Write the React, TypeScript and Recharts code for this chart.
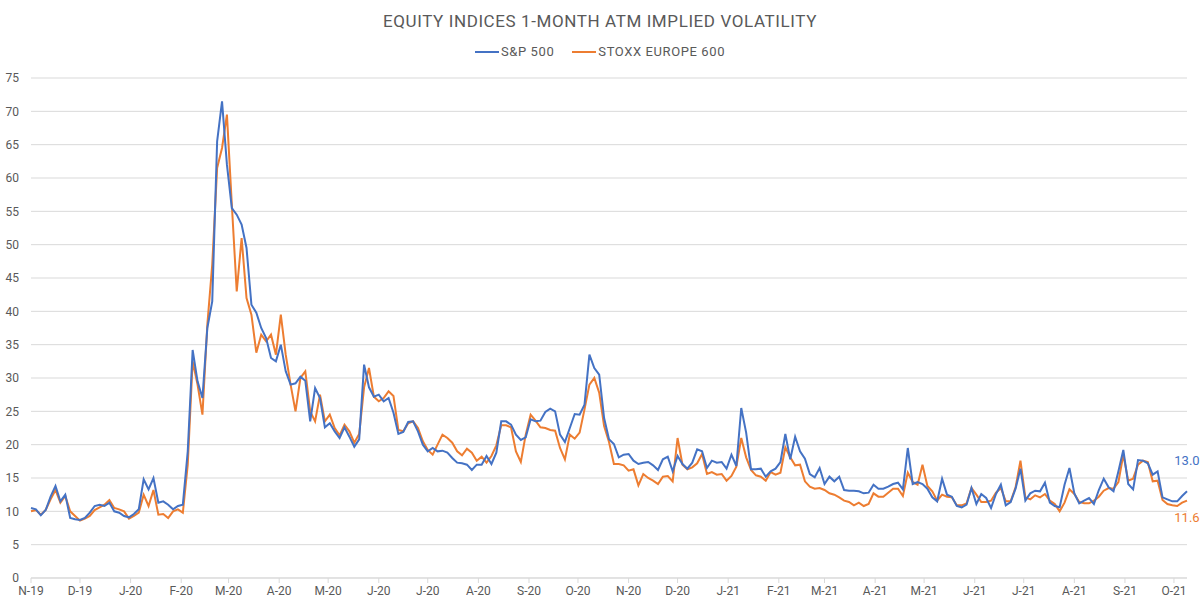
import React from "react";
import { LineChart, Line, XAxis, YAxis, CartesianGrid, LabelList } from "recharts";

// sampled every 3 calendar days from 1 Nov 2019
const START = Date.UTC(2019, 10, 1);
const STEP_DAYS = 3;
const DAY_MS = 86400000;

const monthLabels = [
  "N-19", "D-19", "J-20", "F-20", "M-20", "A-20", "M-20", "J-20", "J-20", "A-20", "S-20", "O-20",
  "N-20", "D-20", "J-21", "F-21", "M-21", "A-21", "M-21", "J-21", "J-21", "A-21", "S-21", "O-21",
];

const yTicks = [0, 5, 10, 15, 20, 25, 30, 35, 40, 45, 50, 55, 60, 65, 70, 75];

const sp500 = [
  10.5, 10.3, 9.4, 10.2, 12.2, 13.8, 11.5, 12.5, 9.0, 8.8, 8.7, 9.0, 9.8, 10.8, 11.0, 10.8,
  11.3, 10.0, 9.8, 9.3, 9.1, 9.6, 10.3, 14.8, 13.3, 15.0, 11.3, 11.5, 11.0, 10.3, 10.8, 11.0,
  19.0, 34.2, 29.5, 27.0, 37.5, 41.5, 65.5, 71.5, 62.0, 55.5, 54.5, 53.0, 49.5, 41.0, 39.8, 37.5,
  36.0, 33.0, 32.5, 35.0, 31.0, 29.0, 29.2, 30.2, 29.6, 23.5, 28.5, 27.0, 22.6, 23.2, 22.0, 21.0,
  22.6, 21.2, 19.7, 20.8, 32.0, 28.6, 27.2, 27.5, 26.5, 27.0, 24.8, 21.6, 21.9, 23.4, 23.5, 22.0,
  20.0, 19.0, 19.5, 19.0, 19.1, 18.8, 18.0, 17.3, 17.2, 17.0, 16.2, 17.0, 17.0, 18.3, 17.1, 18.8,
  23.5, 23.5, 23.0, 21.5, 20.7, 21.1, 23.8, 23.5, 23.6, 24.9, 25.4, 25.0, 21.5, 20.4, 22.5, 24.6,
  24.5, 26.0, 33.5, 31.5, 30.5, 24.0, 20.8, 20.1, 18.1, 18.5, 18.6, 17.6, 17.1, 17.3, 17.4, 16.9,
  16.2, 17.8, 18.2, 16.0, 18.3, 17.1, 16.4, 17.3, 19.3, 19.0, 16.5, 17.6, 17.3, 17.4, 16.4, 18.5,
  16.8, 25.5, 21.8, 16.3, 16.3, 16.4, 15.2, 16.0, 16.4, 17.4, 21.6, 17.8, 21.2, 19.0, 17.9, 15.6,
  15.1, 16.5, 14.1, 15.2, 14.5, 15.2, 13.2, 13.1, 13.1, 13.0, 12.7, 12.8, 14.0, 13.4, 13.4, 13.7,
  14.1, 14.3, 13.3, 19.5, 14.1, 14.4, 14.1, 13.4, 12.1, 11.5, 14.9, 12.5, 12.2, 10.8, 10.6, 11.0,
  13.5, 11.1, 12.6, 12.0, 10.5, 12.6, 14.0, 10.9, 11.4, 13.4, 16.4, 11.6, 12.7, 13.1, 13.0, 14.3,
  11.3, 10.8, 10.6, 14.0, 16.5, 12.7, 11.2, 11.6, 12.0, 11.1, 13.2, 14.9, 13.6, 13.0, 16.0, 19.2,
  14.1, 13.3, 17.7, 17.6, 17.2, 15.5, 16.0, 12.1, 11.8, 11.5, 11.5, 12.3, 13.0,
];

const stoxx600 = [
  10.0, 10.2, 9.5, 10.2, 11.8, 13.2, 11.3, 12.3, 10.0, 9.3, 8.6, 8.9, 9.3, 10.2, 10.6, 11.0,
  11.7, 10.5, 10.3, 10.0, 8.9, 9.3, 9.8, 12.5, 10.8, 13.2, 9.5, 9.6, 9.0, 10.0, 10.3, 9.8,
  17.0, 32.5, 29.0, 24.5, 38.0, 47.0, 61.5, 64.5, 69.5, 56.0, 43.0, 51.0, 42.0, 39.5, 33.8, 36.5,
  35.5, 36.5, 33.5, 39.5, 33.5, 29.0, 25.0, 30.0, 31.0, 25.0, 23.5, 27.5, 23.5, 24.5, 22.5, 21.4,
  23.0, 22.0, 20.3, 21.6, 28.6, 31.5, 27.2, 26.5, 27.0, 28.0, 27.3, 22.2, 22.0, 23.2, 23.5, 22.5,
  20.5, 19.2, 18.5, 20.0, 21.5, 21.0, 20.3, 19.0, 18.4, 19.4, 18.8, 17.6, 18.2, 17.3, 18.3, 19.9,
  22.9, 22.9, 22.6, 19.0, 17.4, 21.5, 24.5, 23.6, 22.6, 22.5, 22.2, 22.1, 19.5, 17.8, 21.5, 20.9,
  21.8, 25.3, 29.0, 30.0, 27.8, 22.8, 20.4, 17.1, 17.1, 16.9, 16.1, 16.3, 13.9, 15.6, 15.0, 14.6,
  14.1, 15.2, 15.3, 14.5, 21.0, 17.0, 16.3, 16.6, 17.2, 18.6, 15.6, 15.9, 15.5, 15.6, 14.6, 15.3,
  16.7, 21.0, 18.1, 16.2, 15.4, 15.2, 14.6, 15.9, 15.5, 15.8, 19.6, 18.1, 16.9, 17.0, 14.5, 13.7,
  13.4, 13.5, 13.2, 12.7, 12.5, 12.1, 11.6, 11.4, 10.9, 11.3, 10.8, 11.1, 12.7, 12.2, 12.2, 12.8,
  13.4, 13.4, 12.3, 15.8, 14.4, 14.0, 17.0, 13.8, 13.0, 11.6, 12.5, 12.2, 12.1, 10.9, 10.9, 11.2,
  13.5, 12.5, 11.4, 11.4, 11.6, 12.8, 13.5, 11.5, 11.5, 13.6, 17.6, 12.1, 11.8, 12.4, 12.1, 12.6,
  11.6, 11.1, 10.0, 11.3, 13.3, 12.6, 11.4, 11.2, 11.2, 11.6, 12.2, 13.1, 13.5, 13.4, 14.4, 18.5,
  14.6, 14.9, 17.0, 17.6, 17.4, 14.5, 14.6, 11.7, 11.1, 10.9, 10.8, 11.3, 11.6,
];

const BLUE = "#4472C4";
const ORANGE = "#ED7D31";
const TEXT = "#595959";
const GRID = "#D9D9D9";
const FONT = "Roboto, 'DejaVu Sans', sans-serif";

const monthTicks = monthLabels.map((_, k) => (Date.UTC(2019, 10 + k, 1) - START) / DAY_MS);
const lastDay = (sp500.length - 1) * STEP_DAYS;

const data = sp500.map((v, i) => ({
  day: i * STEP_DAYS,
  sp500: v,
  stoxx600: stoxx600[i],
}));

function endLabel(color: string, dy: number) {
  return (props: any) => {
    const { x, y, index, value } = props;
    if (index !== data.length - 1) return null;
    return (
      <text
        x={x}
        y={y + dy}
        fill={color}
        fontSize={13}
        fontFamily={FONT}
        textAnchor="middle"
        dominantBaseline="central"
      >
        {Number(value).toFixed(1)}
      </text>
    );
  };
}

function LegendItem({ color, label }: { color: string; label: string }) {
  return (
    <div style={{ display: "flex", alignItems: "center", margin: "0 9px" }}>
      <div style={{ width: 24, height: 2, background: color, marginRight: 2 }} />
      <span>{label}</span>
    </div>
  );
}

export default function App() {
  return (
    <div
      style={{
        position: "absolute",
        left: 0,
        top: 0,
        width: 1200,
        height: 608,
        background: "#fff",
        fontFamily: FONT,
        color: TEXT,
      }}
    >
      <div
        style={{
          position: "absolute",
          top: 11,
          width: 1200,
          textAlign: "center",
          fontSize: 17,
          letterSpacing: 0.6,
        }}
      >
        EQUITY INDICES 1-MONTH ATM IMPLIED VOLATILITY
      </div>
      <div
        style={{
          position: "absolute",
          top: 44,
          width: 1200,
          display: "flex",
          justifyContent: "center",
          fontSize: 13,
          letterSpacing: 0.6,
        }}
      >
        <LegendItem color={BLUE} label="S&P 500" />
        <LegendItem color={ORANGE} label="STOXX EUROPE 600" />
      </div>
      <LineChart
        width={1200}
        height={608}
        data={data}
        margin={{ top: 78, right: 13, bottom: 0, left: 0 }}
      >
        <CartesianGrid vertical={false} stroke={GRID} />
        <XAxis
          dataKey="day"
          type="number"
          domain={[0, lastDay]}
          ticks={monthTicks}
          tickFormatter={(d) => monthLabels[monthTicks.indexOf(d)] ?? ""}
          interval={0}
          height={30}
          tickSize={5}
          tickMargin={3}
          stroke={GRID}
          tick={{ fill: TEXT, fontSize: 12, fontFamily: FONT }}
        />
        <YAxis
          domain={[0, 75]}
          ticks={yTicks}
          interval={0}
          width={31}
          axisLine={false}
          tickLine={false}
          tickSize={0}
          tickMargin={12}
          tick={{ fill: TEXT, fontSize: 12, fontFamily: FONT }}
        />
        <Line
          type="linear"
          dataKey="stoxx600"
          stroke={ORANGE}
          strokeWidth={2}
          dot={false}
          isAnimationActive={false}
        >
          <LabelList dataKey="stoxx600" content={endLabel(ORANGE, 17)} />
        </Line>
        <Line
          type="linear"
          dataKey="sp500"
          stroke={BLUE}
          strokeWidth={2}
          dot={false}
          isAnimationActive={false}
        >
          <LabelList dataKey="sp500" content={endLabel(BLUE, -31)} />
        </Line>
      </LineChart>
    </div>
  );
}
